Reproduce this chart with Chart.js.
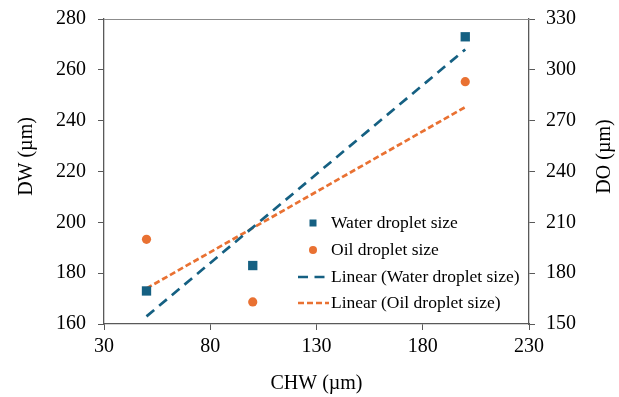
<!DOCTYPE html>
<html>
<head>
<meta charset="utf-8">
<script src="https://cdn.jsdelivr.net/npm/chart.js@4/dist/chart.umd.min.js"></script>
<style>
  html, body { margin: 0; padding: 0; background: #fff; }
  #wrap { position: relative; width: 619px; height: 397px; }
</style>
</head>
<body>
<div id="wrap"><canvas id="chart"></canvas></div>
<script>
// --- Data ---
const chw = [50, 100, 200];
const waterSize = [173, 183, 273];   // DW, left axis
const oilSize = [200, 163, 293];     // DO, right axis
const trendX = [50, 200];
const waterTrend = [163, 268];       // Linear (Water droplet size)
const oilTrend = [171, 278];         // Linear (Oil droplet size)

const xTicks = [30, 80, 130, 180, 230];
const dwTicks = [160, 180, 200, 220, 240, 260, 280];
const doTicks = [150, 180, 210, 240, 270, 300, 330];

const legendLabels = ['Water droplet size', 'Oil droplet size',
    'Linear (Water droplet size)', 'Linear (Oil droplet size)'];

const BLUE = '#156082';
const ORANGE = '#E97132';
const FONT = "'Liberation Serif', 'Times New Roman', serif";
const WATER_DASH = [10, 6.5];
const OIL_DASH = [6, 3];
const TREND_WIDTH = 2.7;

const toPoints = (xs, ys) => xs.map((x, i) => ({ x: x, y: ys[i] }));
const fixedTicks = list => scale => { scale.ticks = list.map(v => ({ value: v })); };
// fixed box width, no extra room for overhanging labels
const fixWidth = w => s => { s.width = w; s.paddingTop = 0; s.paddingBottom = 0; };

// top frame line, both y titles (read bottom-to-top) and the legend inside the plot
const framePlugin = {
    id: 'frameAndLegend',
    afterDraw(chart) {
        const ctx = chart.ctx;
        const a = chart.chartArea;
        ctx.save();
        ctx.strokeStyle = '#8c8c8c';
        ctx.lineWidth = 1;
        ctx.beginPath();
        ctx.moveTo(a.left, a.top + 0.5);
        ctx.lineTo(a.right, a.top + 0.5);
        ctx.stroke();

        // axis titles
        ctx.fillStyle = '#000';
        ctx.font = '20px ' + FONT;
        ctx.textAlign = 'center';
        ctx.textBaseline = 'middle';
        [['DW (µm)', 26.5], ['DO (µm)', 605]].forEach(([t, x]) => {
            ctx.save();
            ctx.translate(x, 156.5);
            ctx.rotate(-Math.PI / 2);
            ctx.fillText(t, 0, 0);
            ctx.restore();
        });

        const rows = [223, 250, 277, 303];
        const mx = 313;
        ctx.textAlign = 'left';
        ctx.font = '17.5px ' + FONT;
        ctx.fillStyle = BLUE;
        ctx.fillRect(mx - 3.5, rows[0] - 3.5, 7, 7);
        ctx.fillStyle = ORANGE;
        ctx.beginPath();
        ctx.arc(mx, rows[1], 4, 0, Math.PI * 2);
        ctx.fill();
        ctx.lineWidth = TREND_WIDTH;
        ctx.strokeStyle = BLUE;
        ctx.setLineDash(WATER_DASH);
        ctx.beginPath();
        ctx.moveTo(298, rows[2]);
        ctx.lineTo(329, rows[2]);
        ctx.stroke();
        ctx.strokeStyle = ORANGE;
        ctx.setLineDash(OIL_DASH);
        ctx.beginPath();
        ctx.moveTo(298, rows[3]);
        ctx.lineTo(329, rows[3]);
        ctx.stroke();
        ctx.setLineDash([]);
        ctx.fillStyle = '#000';
        legendLabels.forEach((t, i) => ctx.fillText(t, 331, rows[i]));
        ctx.restore();
    }
};

const axisColor = '#595959';

new Chart(document.getElementById('chart'), {
    type: 'scatter',
    data: {
        datasets: [
            {
                label: legendLabels[0],
                data: toPoints(chw, waterSize),
                yAxisID: 'y',
                pointStyle: 'rect',
                pointRadius: 6.6,
                backgroundColor: BLUE,
                borderColor: BLUE,
                borderWidth: 0,
                order: 1
            },
            {
                label: legendLabels[1],
                data: toPoints(chw, oilSize),
                yAxisID: 'y1',
                pointStyle: 'circle',
                pointRadius: 4.6,
                backgroundColor: ORANGE,
                borderColor: ORANGE,
                borderWidth: 0,
                order: 1
            },
            {
                label: legendLabels[2],
                data: toPoints(trendX, waterTrend),
                yAxisID: 'y',
                showLine: true,
                pointRadius: 0,
                borderColor: BLUE,
                borderWidth: TREND_WIDTH,
                borderDash: WATER_DASH,
                fill: false,
                order: 2
            },
            {
                label: legendLabels[3],
                data: toPoints(trendX, oilTrend),
                yAxisID: 'y1',
                showLine: true,
                pointRadius: 0,
                borderColor: ORANGE,
                borderWidth: TREND_WIDTH,
                borderDash: OIL_DASH,
                fill: false,
                order: 2
            }
        ]
    },
    options: {
        responsive: true,
        maintainAspectRatio: false,
        animation: false,
        layout: { padding: { top: 19, left: 0, right: 0, bottom: 0 } },
        plugins: { legend: { display: false }, tooltip: { enabled: false } },
        scales: {
            x: {
                type: 'linear',
                min: 30, max: 230,
                afterBuildTicks: fixedTicks(xTicks),
                afterFit: s => { s.height = 73; s.paddingLeft = 0; s.paddingRight = 0; },
                grid: { drawOnChartArea: false, drawTicks: true, tickLength: 6, color: axisColor },
                border: { color: axisColor, width: 1.3 },
                ticks: { color: '#000', padding: 5, font: { family: FONT, size: 20 } },
                title: { display: true, text: 'CHW (µm)', color: '#000', padding: { top: 0, bottom: 1 },
                    font: { family: FONT, size: 20 } }
            },
            y: {
                position: 'left',
                min: 160, max: 280,
                afterBuildTicks: fixedTicks(dwTicks),
                afterFit: fixWidth(104),
                grid: { drawOnChartArea: false, drawTicks: true, tickLength: 6, color: axisColor },
                border: { color: axisColor, width: 1.3 },
                ticks: { color: '#000', padding: 12, font: { family: FONT, size: 20 } }
            },
            y1: {
                position: 'right',
                min: 150, max: 330,
                afterBuildTicks: fixedTicks(doTicks),
                afterFit: fixWidth(90),
                grid: { drawOnChartArea: false, drawTicks: true, tickLength: 6, color: axisColor },
                border: { color: axisColor, width: 1.3 },
                ticks: { color: '#000', padding: 11, font: { family: FONT, size: 20 } }
            }
        }
    },
    plugins: [framePlugin]
});
</script>
</body>
</html>
